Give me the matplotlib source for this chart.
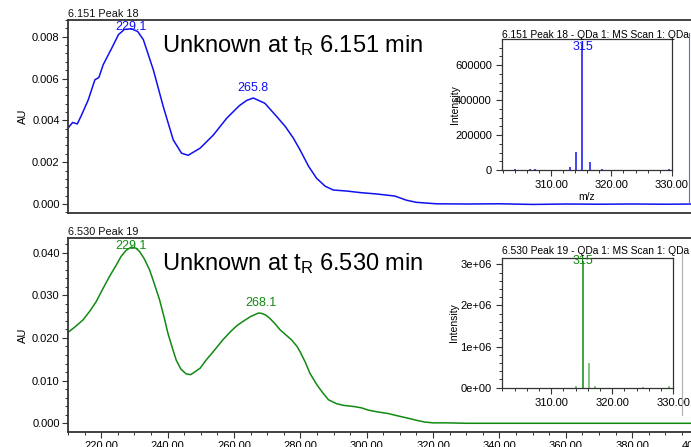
import matplotlib
matplotlib.use("Agg")
import matplotlib.pyplot as plt
from matplotlib.ticker import MultipleLocator, FuncFormatter
from matplotlib.lines import Line2D

plt.rcParams['font.family'] = ['Liberation Sans', 'DejaVu Sans']
plt.rcParams['mathtext.fontset'] = 'custom'
plt.rcParams['mathtext.rm'] = 'Liberation Sans'
plt.rcParams['mathtext.it'] = 'Liberation Sans'

# ---------------- data ----------------
wl_top = [210.0, 211.4, 212.8, 214.1, 216.1, 218.1, 219.3, 220.6, 223.2, 225.2, 227.0, 229.1,
          231.0, 232.7, 235.7, 238.7, 241.7, 244.2, 246.2, 249.8, 253.8, 257.8, 261.6, 263.8,
          265.8, 269.3, 272.9, 275.5, 277.9, 279.9, 282.5, 284.9, 287.5, 289.9, 294.0, 298.4,
          303.0, 308.5, 312.0, 315.0, 321.0, 330.0, 340.0, 350.0, 360.0, 370.0, 380.0, 390.0, 400.0]
au_top = [0.00363, 0.00390, 0.00383, 0.00426, 0.00498, 0.00594, 0.00605, 0.00666, 0.00746, 0.00810,
          0.00835, 0.00838, 0.00825, 0.00786, 0.00642, 0.00466, 0.00307, 0.00243, 0.00233, 0.00267,
          0.00330, 0.00410, 0.00470, 0.00495, 0.00507, 0.00482, 0.00418, 0.00370, 0.00315, 0.00259,
          0.00180, 0.00123, 0.00085, 0.00067, 0.00062, 0.00054, 0.00048, 0.00038, 0.00018, 0.00008,
          0.00001, 0.00000, 0.00001, -0.00002, 0.00000, -0.00001, 0.00000, -0.00001, 0.00000]

wl_bot = [210.0, 212.0, 214.5, 216.5, 218.5, 220.5, 222.5, 224.5, 226.0, 227.5, 229.1, 230.5,
          231.6, 233.0, 234.6, 236.0, 237.6, 239.0, 240.1, 241.5, 242.6, 244.0, 245.6, 247.0,
          247.6, 249.8, 251.6, 254.0, 256.6, 259.0, 261.1, 263.0, 265.0, 267.3, 268.1, 269.5,
          270.8, 272.5, 273.9, 275.5, 277.4, 279.0, 279.9, 281.5, 282.9, 285.0, 286.9, 288.5,
          290.9, 293.0, 296.4, 298.5, 300.4, 303.0, 306.4, 309.0, 312.4, 315.0, 317.4, 320.0,
          324.4, 330.0, 350.0, 370.0, 400.0]
au_bot = [0.0213, 0.0225, 0.0242, 0.0262, 0.0285, 0.0315, 0.0344, 0.0370, 0.0391, 0.0405, 0.0413,
          0.0410, 0.0402, 0.0385, 0.0359, 0.0327, 0.0289, 0.0247, 0.0211, 0.0175, 0.0148, 0.0127,
          0.01156, 0.0114, 0.0117, 0.0129, 0.0148, 0.0170, 0.0195, 0.0215, 0.0230, 0.0240, 0.0250,
          0.0258, 0.0258, 0.0254, 0.0246, 0.0232, 0.0219, 0.0208, 0.0195, 0.0180, 0.0168, 0.0143,
          0.0117, 0.0090, 0.0070, 0.0055, 0.0046, 0.0042, 0.0039, 0.0036, 0.0031, 0.0027, 0.0023,
          0.0018, 0.0012, 0.0007, 0.0003, 0.0001, 0.0001, 0.0000, 0.0000, 0.0000, 0.0000]

mz_top = [304.0, 306.5, 307.4, 313.1, 314.2, 315.2, 316.4, 318.5, 329.5]
int_top = [5000, 7000, 5000, 16000, 104000, 724000, 47000, 3000, 8000]
mz_bot = [314.1, 315.2, 316.2, 317.2, 325.0, 329.3]
int_bot = [40000, 3070000, 610000, 50000, 10000, 30000]

top_peaks = [229.1, 265.8]
top_peak_au = [0.00838, 0.00507]
bot_peaks = [229.1, 268.1]
bot_peak_au = [0.0413, 0.0258]

BLUE = '#1010f0'
GREEN = '#108a10'
LGREEN = '#5cb85c'
SP = '#333333'

W, H = 691, 447
fig = plt.figure(figsize=(W / 100, H / 100), dpi=100)


def rect(l, t, r, b):
    return [l / W, 1 - b / H, (r - l) / W, (b - t) / H]


def fxy(x, y):
    return x / W, 1 - y / H


def style(ax, lw=1.0):
    for s in ax.spines.values():
        s.set_color(SP)
        s.set_linewidth(lw)
    ax.tick_params(which='major', length=4.5, width=0.8, color=SP, labelsize=8, pad=1.5)
    ax.tick_params(which='minor', length=2.2, width=0.7, color=SP)


# ---------------- top main ----------------
ax1 = fig.add_axes(rect(68, 20, 68 + 190 * 3.319, 213))
ax1.plot(wl_top, au_top, color=BLUE, lw=1.1)
ax1.set_xlim(210, 400)
ax1.set_ylim(-0.00043, 0.0088)
ax1.yaxis.set_major_locator(MultipleLocator(0.002))
ax1.yaxis.set_minor_locator(MultipleLocator(0.0004))
ax1.yaxis.set_major_formatter(FuncFormatter(lambda v, p: f"{v:.3f}"))
style(ax1, 1.3)
ax1.tick_params(axis='x', which='both', bottom=False, labelbottom=False)
for wl, au in zip(top_peaks, top_peak_au):
    off = 1 if wl < 250 else 3
    va = 'center' if wl < 250 else 'bottom'
    ax1.annotate(f"{wl:.1f}", (wl, au), xytext=(0, off), textcoords='offset points',
                 ha='center', va=va, color=BLUE, fontsize=9)

# ---------------- bottom main ----------------
ax2 = fig.add_axes(rect(68, 238, 68 + 190 * 3.319, 431.7))
ax2.plot(wl_bot, au_bot, color=GREEN, lw=1.1)
ax2.set_xlim(210, 400)
ax2.set_ylim(-0.00197, 0.0434)
ax2.yaxis.set_major_locator(MultipleLocator(0.01))
ax2.yaxis.set_minor_locator(MultipleLocator(0.002))
ax2.yaxis.set_major_formatter(FuncFormatter(lambda v, p: f"{v:.3f}"))
ax2.xaxis.set_major_locator(MultipleLocator(20))
ax2.xaxis.set_minor_locator(MultipleLocator(5))
ax2.xaxis.set_major_formatter(FuncFormatter(lambda v, p: f"{v:.2f}"))
style(ax2, 1.3)
ax2.tick_params(axis='x', which='major', pad=2.5)
for wl, au in zip(bot_peaks, bot_peak_au):
    off = 1 if wl < 250 else 3
    va = 'center' if wl < 250 else 'bottom'
    ax2.annotate(f"{wl:.1f}", (wl, au), xytext=(0, off), textcoords='offset points',
                 ha='center', va=va, color=GREEN, fontsize=9)

# headers & labels
fig.text(*fxy(68, 17.3), "6.151 Peak 18", fontsize=7.8, ha='left', va='baseline', color='#111111')
fig.text(*fxy(68, 235.3), "6.530 Peak 19", fontsize=7.8, ha='left', va='baseline', color='#111111')
fig.text(*fxy(23.3, 116.5), "AU", rotation=90, fontsize=8, ha='center', va='center')
fig.text(*fxy(23.3, 335), "AU", rotation=90, fontsize=8, ha='center', va='center')
fig.text(*fxy(161.7, 51.7), r"Unknown at t$_{\mathrm{R}}$ 6.151 min", fontsize=17,
         ha='left', va='baseline')
fig.text(*fxy(161.7, 269.7), r"Unknown at t$_{\mathrm{R}}$ 6.530 min", fontsize=17,
         ha='left', va='baseline')

# ---------------- top inset ----------------
ia = fig.add_axes(rect(502.3, 39.3, 671.7, 170))
ia.vlines(mz_top, 0, int_top, color=BLUE, lw=1.1)
ia.set_xlim(301.9, 330)
ia.set_ylim(0, 747000)
ia.yaxis.set_major_locator(MultipleLocator(200000))
ia.yaxis.set_minor_locator(MultipleLocator(50000))
ia.xaxis.set_major_locator(MultipleLocator(10))
ia.xaxis.set_minor_locator(MultipleLocator(2))
ia.xaxis.set_major_formatter(FuncFormatter(lambda v, p: f"{v:.2f}"))
ia.yaxis.set_major_formatter(FuncFormatter(lambda v, p: f"{int(v)}"))
style(ia, 0.9)
ia.tick_params(which='major', pad=3)
ia.annotate("315", (315.2, max(int_top)), xytext=(0, -2.5), textcoords='offset points',
            ha='center', va='center', color=BLUE, fontsize=9)
fig.text(*fxy(455, 104.6), "Intensity", rotation=90, fontsize=7.5, ha='center', va='center')
ia.set_xlabel("m/z", fontsize=7.5, labelpad=1)
fig.text(*fxy(502.3, 38.2), "6.151 Peak 18 - QDa 1: MS Scan 1: QDa", fontsize=7.4,
         ha='left', va='baseline')

# ---------------- bottom inset ----------------
ib = fig.add_axes(rect(502.3, 257.7, 673.3, 387.7))
bcols = [GREEN if v == max(int_bot) else LGREEN for v in int_bot]
ib.vlines(mz_bot, 0, int_bot, colors=bcols, lw=1.1)
ib.set_xlim(302.0, 330)
ib.set_ylim(0, 3.16e6)
ib.yaxis.set_major_locator(MultipleLocator(1e6))
ib.yaxis.set_minor_locator(MultipleLocator(2e5))
ib.xaxis.set_major_locator(MultipleLocator(10))
ib.xaxis.set_minor_locator(MultipleLocator(2))
ib.xaxis.set_major_formatter(FuncFormatter(lambda v, p: f"{v:.2f}"))
ib.yaxis.set_major_formatter(FuncFormatter(lambda v, p: f"{v:.0e}"))
style(ib, 0.9)
ib.tick_params(which='major', pad=3)
ib.annotate("315", (315.2, max(int_bot)), xytext=(0, 0), textcoords='offset points',
            ha='center', va='center', color=GREEN, fontsize=9)
fig.text(*fxy(454, 322.7), "Intensity", rotation=90, fontsize=7.5, ha='center', va='center')
fig.text(*fxy(502.3, 254), "6.530 Peak 19 - QDa 1: MS Scan 1: QDa", fontsize=7.4,
         ha='left', va='baseline')

# inset frame edges at right
fig.add_artist(Line2D([689 / W, 689 / W], [1 - 33 / H, 1 - 203 / H], color='#5a6fd0', lw=0.8))
fig.add_artist(Line2D([682 / W, 682 / W], [1 - 252 / H, 1 - 415 / H], color='#b0b0b0', lw=0.8))

fig.savefig("out.png", dpi=100)
